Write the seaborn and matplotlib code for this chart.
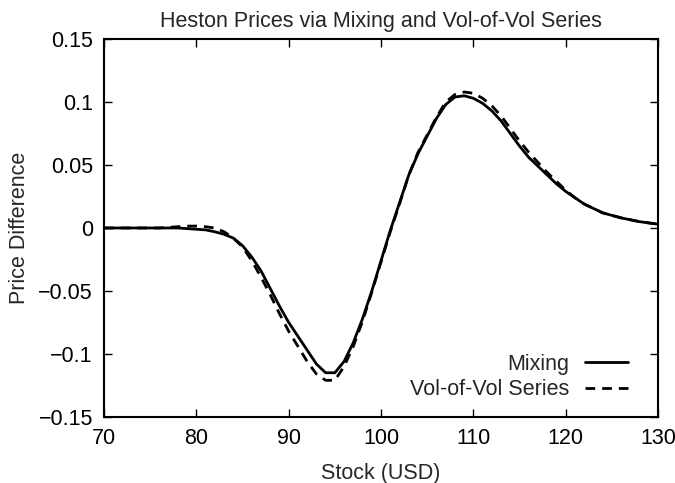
import matplotlib
matplotlib.use("Agg")
import matplotlib.pyplot as plt
import seaborn as sns

# Data
stock = list(range(70, 131))
mixing = [0.0, 0.0, 0.0, 0.0, 0.0, 0.0, 0.0, 0.0, 0.0, -0.0005,
          -0.001, -0.0015, -0.003, -0.005, -0.008, -0.014, -0.023, -0.034, -0.048, -0.062,
          -0.075, -0.086, -0.097, -0.108, -0.115, -0.115, -0.106, -0.091, -0.072, -0.050,
          -0.026, -0.002, 0.020, 0.042, 0.059, 0.073, 0.087, 0.098, 0.104, 0.105,
          0.103, 0.099, 0.093, 0.085, 0.075, 0.065, 0.056, 0.049, 0.042, 0.035,
          0.029, 0.024, 0.019, 0.0155, 0.012, 0.010, 0.008, 0.0065, 0.005, 0.004,
          0.003]
volvol = [0.0, 0.0, 0.0, 0.0, 0.0, 0.0, 0.0, 0.0005, 0.001, 0.0015,
          0.0015, 0.001, 0.0, -0.003, -0.008, -0.015, -0.026, -0.039, -0.053, -0.068,
          -0.082, -0.094, -0.106, -0.116, -0.121, -0.121, -0.110, -0.094, -0.074, -0.051,
          -0.027, -0.003, 0.019, 0.042, 0.060, 0.074, 0.088, 0.100, 0.106, 0.108,
          0.107, 0.103, 0.097, 0.089, 0.079, 0.069, 0.060, 0.052, 0.044, 0.037,
          0.030, 0.024, 0.019, 0.0155, 0.012, 0.010, 0.008, 0.0065, 0.005, 0.004,
          0.003]
xticks = [70, 80, 90, 100, 110, 120, 130]
yticks = [-0.15, -0.1, -0.05, 0, 0.05, 0.1, 0.15]
ytick_labels = ["\u22120.15", "\u22120.1", "\u22120.05", "0", "0.05", "0.1", "0.15"]

sns.set_style("ticks")
plt.rcParams['font.family'] = ['Liberation Sans', 'DejaVu Sans']
fs = 15.5

fig = plt.figure(figsize=(6.75, 4.83), dpi=100)
ax = fig.add_axes([0.154, 0.137, 0.821, 0.782])

sns.lineplot(x=stock, y=mixing, ax=ax, color='black', linewidth=2, label='Mixing')
sns.lineplot(x=stock, y=volvol, ax=ax, color='black', linewidth=2,
             linestyle=(0, (3.5, 2.5)), label='Vol-of-Vol Series')

ax.set_xlim(70, 130)
ax.set_ylim(-0.15, 0.15)
ax.set_xticks(xticks)
ax.set_xticklabels([str(t) for t in xticks])
ax.set_yticks(yticks)
ax.set_yticklabels(ytick_labels)
ax.tick_params(direction='in', length=6, width=1, top=True, right=True,
               labelsize=fs, colors='black', pad=8)
for s in ax.spines.values():
    s.set_linewidth(1.5)
    s.set_color('black')

ax.set_title("Heston Prices via Mixing and Vol-of-Vol Series", fontsize=fs, pad=9)
ax.set_xlabel("Stock (USD)", fontsize=fs, labelpad=10)
ax.set_ylabel("Price Difference", fontsize=fs, labelpad=6)

# gnuplot-style key: text right-aligned, sample on the right
ax.legend(loc='lower right', bbox_to_anchor=(0.962, 0.021), frameon=False,
          markerfirst=False, fontsize=fs, handlelength=2.0, handletextpad=0.75,
          labelspacing=0.2, borderaxespad=0)

fig.savefig("out.png", dpi=100)
